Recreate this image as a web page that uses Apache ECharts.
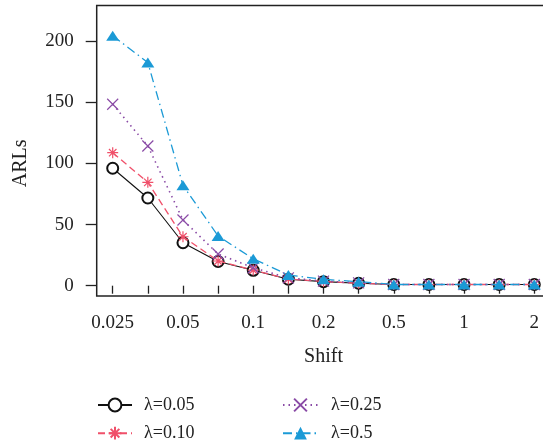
<!DOCTYPE html>
<html>
<head>
<meta charset="utf-8">
<script src="https://cdn.jsdelivr.net/npm/echarts@6/dist/echarts.min.js"></script>
<style>html,body{margin:0;padding:0;background:#fff;}#c{width:543px;height:447px;}</style>
</head>
<body>
<div id="c"></div>
<script>
const shifts = ['0.025','0.0375','0.05','0.075','0.1','0.15','0.2','0.3','0.5','0.75','1','1.5','2'];
const yTicks = [0, 50, 100, 150, 200];
const seriesNames = ['λ=0.05', 'λ=0.10', 'λ=0.25', 'λ=0.5'];
const arl005 = [96.0, 71.7, 35.1, 19.8, 12.6, 5.3, 3.3, 2.0, 1.0, 1.0, 1.0, 1.0, 1.0];
const arl010 = [108.7, 84.5, 40.0, 20.2, 12.8, 5.5, 3.4, 2.0, 1.0, 1.0, 1.0, 1.0, 1.0];
const arl025 = [148.3, 114.2, 53.7, 25.9, 14.7, 6.4, 3.8, 2.3, 1.0, 1.0, 1.0, 1.0, 1.0];
const arl050 = [204.3, 182.4, 82.0, 40.6, 22.0, 8.7, 5.2, 3.3, 1.0, 1.0, 1.0, 1.0, 1.0];

const FONT = '"Liberation Serif", "DejaVu Serif", serif';
const chart = echarts.init(document.getElementById('c'));
const asterisk = 'path://M5,0L5,10M0,5L10,5M1.6,1.6L8.4,8.4M1.6,8.4L8.4,1.6';
const cross = 'path://M0,0L10,10M0,10L10,0';

const legendCommon = {
  orient: 'vertical', top: 396, height: 60, padding: 0,
  itemHeight: 16, itemGap: 10.2
};
const legendText = (pad) => ({ fontFamily: FONT, fontSize: 18, color: '#222', padding: [0, 0, 0, pad] });

chart.setOption({
  animation: false,
  backgroundColor: '#fff',
  grid: { left: 112.7, right: 8.7, top: 41, bottom: 161.3 },
  graphic: [{
    type: 'rect', silent: true, z: 0,
    shape: { x: 96.7, y: 5.5, width: 520, height: 290.5 },
    style: { fill: 'none', stroke: '#222', lineWidth: 1.5 }
  }],
  xAxis: {
    type: 'category', data: shifts, boundaryGap: false, offset: 10.3,
    name: 'Shift', nameLocation: 'middle', nameGap: 51,
    nameTextStyle: { fontFamily: FONT, fontSize: 20, color: '#222' },
    axisLine: { show: false },
    axisTick: { show: true, length: 8, interval: 0, lineStyle: { color: '#222', width: 1.3 } },
    axisLabel: { interval: 1, margin: 18, fontFamily: FONT, fontSize: 19, color: '#222' },
    splitLine: { show: false }
  },
  yAxis: {
    type: 'value', min: yTicks[0], max: yTicks[yTicks.length - 1], interval: 50, offset: 16,
    name: 'ARLs', nameLocation: 'middle', nameGap: 66, nameRotate: 90,
    nameTextStyle: { fontFamily: FONT, fontSize: 20, color: '#222' },
    axisLine: { show: false },
    axisTick: { show: true, length: 11, lineStyle: { color: '#222', width: 1.3 } },
    axisLabel: { margin: 23, fontFamily: FONT, fontSize: 19, color: '#222' },
    splitLine: { show: false }
  },
  legend: [
    Object.assign({ data: [seriesNames[0], seriesNames[1]], left: 97, itemWidth: 34, textStyle: legendText(7) }, legendCommon),
    Object.assign({ data: [seriesNames[2], seriesNames[3]], left: 282, itemWidth: 35, textStyle: legendText(8) }, legendCommon)
  ],
  series: [{
    name: seriesNames[0], type: 'line', data: arl005, z: 2, clip: false,
    symbol: 'emptyCircle', symbolSize: 11,
    lineStyle: { color: '#111', width: 1.1, type: 'solid' },
    itemStyle: { color: '#111', borderColor: '#111', borderWidth: 0.9 }
  }, {
    name: seriesNames[1], type: 'line', data: arl010, z: 3, clip: false,
    symbol: asterisk, symbolSize: 11,
    lineStyle: { color: '#F0506A', width: 1.3, type: [7, 4] },
    itemStyle: { color: '#F0506A', borderColor: '#F0506A', borderWidth: 1.2 }
  }, {
    name: seriesNames[2], type: 'line', data: arl025, z: 4, clip: false,
    symbol: cross, symbolSize: 11,
    lineStyle: { color: '#8A4BA6', width: 1.6, type: [1.5, 4] },
    itemStyle: { color: '#8A4BA6', borderColor: '#8A4BA6', borderWidth: 1.2 }
  }, {
    name: seriesNames[3], type: 'line', data: arl050, z: 5, clip: false,
    symbol: 'triangle', symbolSize: [13, 10],
    lineStyle: { color: '#1B9AD6', width: 1.3, type: [9, 4, 1.5, 4] },
    itemStyle: { color: '#1B9AD6', borderColor: '#1B9AD6', borderWidth: 0 }
  }]
});
</script>
</body>
</html>
